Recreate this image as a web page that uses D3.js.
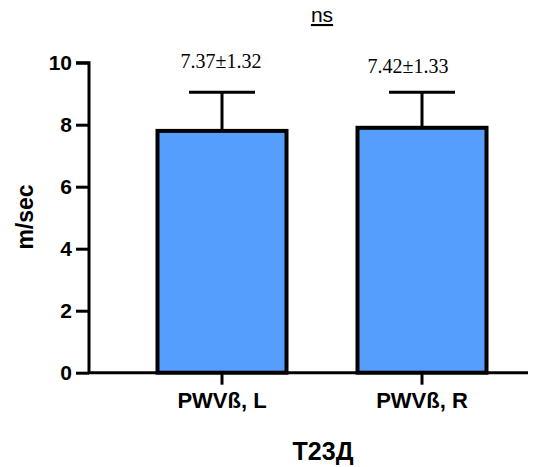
<!DOCTYPE html>
<html>
<head>
<meta charset="utf-8">
<script src="https://cdn.jsdelivr.net/npm/d3@7"></script>
<style>
  body { margin: 0; background: #fff; }
</style>
</head>
<body>
<svg id="chart" width="548" height="467"></svg>
<script>
var categories = ["PWVß, L", "PWVß, R"]
var means = [7.80, 7.90]
var errors = [1.25, 1.15]
var annotations = ["7.37±1.32", "7.42±1.33"]
var yTicks = [0, 2, 4, 6, 8, 10]

var barFill = "#559efd"
var sans = "Liberation Sans, Arial, sans-serif"
var serif = "Liberation Serif, Times New Roman, serif"

var svg = d3.select("#chart")

var x = d3.scaleBand()
  .domain(categories)
  .range([122, 522])
  .paddingInner(0.355)
  .paddingOuter(0.1775)

var y = d3.scaleLinear()
  .domain([0, 10])
  .range([372.7, 62.7])

// y axis
var yAxis = svg.append("g")
  .attr("transform", "translate(89,0)")
  .call(d3.axisLeft(y).tickValues(yTicks).tickSize(13).tickPadding(4))
yAxis.select(".domain").attr("stroke-width", 3).attr("d", "M-13," + y(10) + "H0V" + y(0))
yAxis.selectAll(".tick line").attr("stroke-width", 3)
yAxis.selectAll(".tick text")
  .style("font-size", "21px").style("font-weight", "bold").style("font-family", sans)
  .attr("fill", "#000")

// error bars (drawn first, bar covers lower half)
var g = svg.append("g")
categories.forEach(function (c, i) {
  var cx = x(c) + x.bandwidth() / 2
  g.append("line")
    .attr("x1", cx).attr("x2", cx)
    .attr("y1", y(means[i])).attr("y2", y(means[i] + errors[i]))
    .attr("stroke", "#000").attr("stroke-width", 3)
  g.append("line")
    .attr("x1", cx - 33).attr("x2", cx + 33)
    .attr("y1", y(means[i] + errors[i])).attr("y2", y(means[i] + errors[i]))
    .attr("stroke", "#000").attr("stroke-width", 3)
})

// bars
g.selectAll("rect.bar")
  .data(categories)
  .enter().append("rect")
  .attr("class", "bar")
  .attr("x", function (d) { return x(d) })
  .attr("width", x.bandwidth())
  .attr("y", function (d, i) { return y(means[i]) })
  .attr("height", function (d, i) { return y(0) - y(means[i]) })
  .attr("fill", barFill)
  .attr("stroke", "#000")
  .attr("stroke-width", 4)

// x axis
var xAxis = svg.append("g")
  .attr("transform", "translate(0," + y(0) + ")")
  .call(d3.axisBottom(x).tickSize(12).tickPadding(8))
xAxis.select(".domain").attr("stroke-width", 3).attr("d", "M88,0H528")
xAxis.selectAll(".tick line").attr("stroke-width", 3)
xAxis.selectAll(".tick text")
  .style("font-size", "22px").style("font-weight", "bold").style("font-family", sans)
  .attr("fill", "#000")

// value annotations
var annX = [221, 408]
var annY = [68, 73]
svg.selectAll("text.ann")
  .data(annotations)
  .enter().append("text")
  .attr("class", "ann")
  .attr("x", function (d, i) { return annX[i] })
  .attr("y", function (d, i) { return annY[i] })
  .attr("text-anchor", "middle")
  .style("font-family", serif)
  .style("font-size", "20px")
  .text(function (d) { return d })

// ns label
svg.append("text")
  .attr("x", 322).attr("y", 22)
  .attr("text-anchor", "middle")
  .style("font-family", sans)
  .style("font-size", "21px")
  .style("text-decoration", "underline")
  .text("ns")

// axis titles
svg.append("text")
  .attr("transform", "translate(33,217) rotate(-90)")
  .attr("text-anchor", "middle")
  .style("font-family", sans)
  .style("font-size", "23px").style("font-weight", "bold")
  .text("m/sec")

svg.append("text")
  .attr("x", 323).attr("y", 460)
  .attr("text-anchor", "middle")
  .style("font-family", sans)
  .style("font-size", "25px").style("font-weight", "bold")
  .text("Т23Д")
</script>
</body>
</html>
